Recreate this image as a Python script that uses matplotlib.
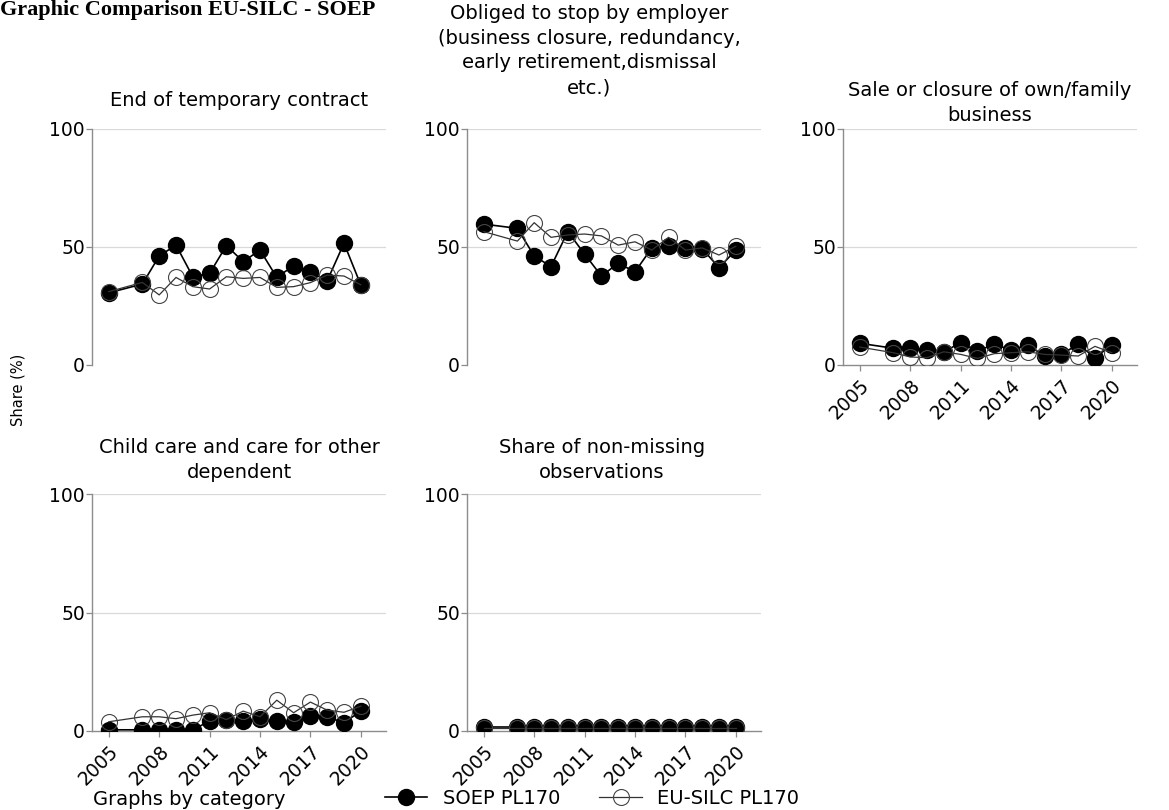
import matplotlib
matplotlib.use("Agg")
import matplotlib.pyplot as plt
from matplotlib.lines import Line2D
from matplotlib.transforms import ScaledTranslation

years = [2005, 2007, 2008, 2009, 2010, 2011, 2012, 2013, 2014, 2015, 2016, 2017, 2018, 2019, 2020]

titles = [
    "End of temporary contract",
    "Obliged to stop by employer\n(business closure, redundancy,\nearly retirement,dismissal\netc.)",
    "Sale or closure of own/family\nbusiness",
    "Child care and care for other\ndependent",
    "Share of non-missing\nobservations",
]

soep_temp = [30.6, 34.3, 46.2, 50.8, 37.4, 38.8, 50.6, 43.8, 48.7, 37.1, 42.1, 39.3, 35.7, 51.6, 33.9]
silc_temp = [31.1, 35.0, 29.7, 37.1, 33.2, 32.2, 37.4, 36.7, 37.1, 32.9, 33.2, 34.9, 38.1, 37.7, 34.0]

soep_empl = [59.7, 57.9, 46.2, 41.7, 56.5, 47.0, 37.7, 43.1, 39.5, 49.6, 50.3, 49.6, 49.3, 41.2, 48.7]
silc_empl = [56.5, 52.5, 60.3, 54.1, 55.1, 55.5, 54.7, 50.8, 52.2, 48.7, 54.1, 48.7, 49.6, 46.6, 50.3]

soep_bus = [9.2, 7.1, 7.1, 6.3, 5.5, 9.5, 5.9, 8.8, 6.4, 8.5, 3.8, 4.5, 8.8, 3.1, 8.5]
silc_bus = [7.6, 5.2, 3.4, 3.1, 5.6, 4.5, 2.8, 4.8, 5.2, 5.6, 4.5, 4.2, 3.8, 7.9, 5.2]

soep_care = [0.5, 0.5, 0.5, 0.5, 0.3, 4.4, 4.5, 4.4, 4.9, 4.4, 3.7, 6.3, 5.9, 3.5, 8.4]
silc_care = [3.9, 6.0, 6.0, 5.2, 6.7, 7.7, 4.8, 8.4, 6.0, 13.0, 7.7, 12.2, 8.8, 7.9, 10.5]

soep_nonmiss = [1.5, 1.5, 1.5, 1.5, 1.5, 1.5, 1.5, 1.5, 1.5, 1.5, 1.5, 1.5, 1.5, 1.5, 1.5]
silc_nonmiss = [1.2, 1.2, 1.2, 1.2, 1.2, 1.2, 1.2, 1.2, 1.2, 1.2, 1.2, 1.2, 1.2, 1.2, 1.2]

soep_series = [soep_temp, soep_empl, soep_bus, soep_care, soep_nonmiss]
silc_series = [silc_temp, silc_empl, silc_bus, silc_care, silc_nonmiss]

yticks = [0, 50, 100]
xticks = [2005, 2008, 2011, 2014, 2017, 2020]

W, H = 1169, 810
plt.rcParams['font.family'] = ['DejaVu Sans']
fig = plt.figure(figsize=(W / 100, H / 100), dpi=100)

def px(l, t, w, h):
    return [l / W, 1 - (t + h) / H, w / W, h / H]

lefts = [92, 467, 843]
tops = [129, 494]
heights = [236, 237]
width = 294

# title placement (pixel centre x, pixel bottom y)
title_x = [239, 589, 990, 239, 602]
title_bottom = [110, 97, 125, 482, 482]

FS = 13.5
TFS = 14
grid_c = "#d9d9d9"
spine_c = "#8c8c8c"

for i in range(5):
    r, c = divmod(i, 3)
    ax = fig.add_axes(px(lefts[c], tops[r], width, heights[r]))
    ax.set_xlim(2004, 2021.5)
    ax.set_ylim(0, 100)
    for y in [50, 100]:
        ax.axhline(y, color=grid_c, lw=0.9, zorder=0)
    ax.plot(years, soep_series[i], color="black", lw=1.2, marker="o",
            markersize=11.5, markerfacecolor="black", markeredgecolor="black", zorder=3)
    ax.plot(years, silc_series[i], color="#333333", lw=0.9, marker="o",
            markersize=11.5, markerfacecolor="none", markeredgecolor="#444444",
            markeredgewidth=0.8, zorder=4)
    for s in ["top", "right"]:
        ax.spines[s].set_visible(False)
    ax.spines["left"].set_color(spine_c)
    ax.spines["left"].set_linewidth(1.0)
    ax.set_yticks(yticks)
    ax.tick_params(axis="y", colors=spine_c, labelcolor="black", labelsize=FS,
                   length=4, width=0.9, pad=1)
    if i >= 2:
        ax.spines["bottom"].set_color(spine_c)
        ax.spines["bottom"].set_linewidth(1.0)
        ax.set_xticks(xticks)
        labels = ax.set_xticklabels([str(x) for x in xticks], rotation=45, ha="right",
                                    rotation_mode="anchor")
        off = ScaledTranslation(8 / 100, 0, fig.dpi_scale_trans)
        for lab in labels:
            lab.set_transform(lab.get_transform() + off)
        ax.tick_params(axis="x", colors=spine_c, labelcolor="black", labelsize=FS,
                       length=4, width=0.9)
    else:
        ax.spines["bottom"].set_visible(False)
        ax.set_xticks([])
    fig.text(title_x[i] / W, 1 - title_bottom[i] / H, titles[i], ha="center",
             va="bottom", fontsize=TFS, linespacing=1.38, multialignment="center")

fig.text(18 / W, 1 - 390 / H, "Share (%)", rotation=90, ha="center", va="center", fontsize=10.5)
fig.text(0.0, 1 - 15 / H, "Graphic Comparison EU-SILC - SOEP", fontsize=16,
         fontweight="bold", family=["Liberation Serif", "DejaVu Serif"], ha="left", va="baseline")
fig.text(93 / W, 1 - 805 / H, "Graphs by category", fontsize=TFS, ha="left", va="baseline")

handles = [
    Line2D([], [], color="black", lw=1.2, marker="o", markersize=11.5,
           markerfacecolor="black", markeredgecolor="black"),
    Line2D([], [], color="#333333", lw=0.9, marker="o", markersize=11.5,
           markerfacecolor="none", markeredgecolor="#444444", markeredgewidth=0.8),
]
fig.legend(handles, ["SOEP PL170", "EU-SILC PL170"], loc="center",
           bbox_to_anchor=(592 / W, 1 - 798 / H), ncol=2, frameon=False,
           fontsize=TFS, handlelength=2.2, columnspacing=2.0, handletextpad=0.8,
           borderpad=0.1)

fig.savefig("out.png", dpi=100)
